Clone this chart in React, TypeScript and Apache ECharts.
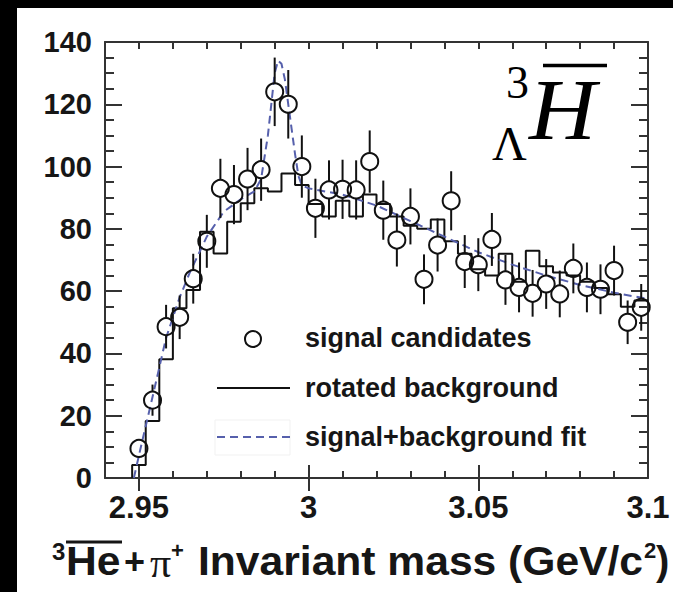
import React, { useEffect, useRef } from 'react';
import * as echarts from 'echarts';

// ---- data ----
const massBins = [
  2.950, 2.954, 2.958, 2.962, 2.966, 2.970, 2.974, 2.978, 2.982, 2.986,
  2.990, 2.994, 2.998, 3.002, 3.006, 3.010, 3.014, 3.018, 3.022, 3.026,
  3.030, 3.034, 3.038, 3.042, 3.046, 3.050, 3.054, 3.058, 3.062, 3.066,
  3.070, 3.074, 3.078, 3.082, 3.086, 3.090, 3.094, 3.098,
];
const signalCounts = [
  9.5, 25, 48.6, 51.6, 64, 76, 93, 91, 96, 99,
  124, 120, 100, 86.6, 92.5, 92.7, 92.5, 101.6, 86, 76.4,
  84, 63.8, 74.8, 89, 69.5, 68.5, 76.6, 63.6, 61.2, 59.3,
  62.3, 59.1, 67.3, 61.2, 60.6, 66.6, 50, 54.8,
];
const signalErrors = [
  3, 5, 7, 7, 8, 8.5, 9.5, 9.5, 10, 10,
  11, 11, 10, 9.5, 9.5, 9.5, 9.5, 10, 9.5, 8.5,
  9, 8, 8.5, 9.5, 8.5, 8.5, 8.5, 8, 8, 7.5,
  8, 7.5, 8, 8, 8, 8, 7, 7.5,
];
const rotatedBackground = [
  4.2, 18.3, 38.1, 54.5, 60.4, 79.1, 72.1, 82.3, 88.2, 93,
  92, 97.8, 94.1, 88, 84, 89, 84, 91, 88, 84,
  81, 80, 83, 76, 72, 67, 65, 72, 63, 73,
  68, 66, 65, 63, 61, 59, 55, 57,
];
const fitMass = [
  2.9485, 2.951, 2.954, 2.958, 2.962, 2.965, 2.970, 2.975, 2.980, 2.984,
  2.986, 2.987, 2.988, 2.989, 2.990, 2.991, 2.992, 2.993, 2.994, 2.995,
  2.996, 2.997, 2.998, 3.000, 3.010, 3.020, 3.030, 3.040, 3.050, 3.060,
  3.070, 3.080, 3.090, 3.100,
];
const fitValues = [
  0, 12, 26, 45, 58, 66, 77.5, 85.5, 89.5, 92,
  96, 103, 110, 120, 130, 134, 133, 128, 120, 112,
  104, 97, 94, 93, 91, 87.5, 82.5, 77.5, 72.5, 68.5,
  65, 62, 59.5, 57.5,
];
const xTickLabels = [2.95, 3.0, 3.05, 3.1];
const xMajorTicks = [2.95, 3.0, 3.05];
const yTickLabels = [0, 20, 40, 60, 80, 100, 120, 140];

const BIN_HALF = 0.002;
const AXIS_COLOR = '#333';
const TEXT_COLOR = '#161616';
const FIT_COLOR = '#5660ac';
const SANS = 'Liberation Sans';
const SERIF = 'Liberation Serif';

function fmtX(v: number) {
  return String(Number(v.toFixed(2)));
}

export default function App() {
  const ref = useRef<HTMLDivElement>(null);

  useEffect(() => {
    if (!ref.current) return;
    const chart = echarts.init(ref.current, undefined, { renderer: 'svg' });

    const histData: number[][] = [[massBins[0] - BIN_HALF, 0]];
    massBins.forEach((m, i) => histData.push([m - BIN_HALF, rotatedBackground[i]]));
    histData.push([massBins[massBins.length - 1] + BIN_HALF, rotatedBackground[rotatedBackground.length - 1]]);

    const fitData = fitMass.map((m, i) => [m, fitValues[i]]);
    const sigData = massBins.map((m, i) => [m, signalCounts[i], signalErrors[i]]);

    const lineStyle = { color: AXIS_COLOR, width: 2 };
    const xBase = { type: 'value', min: 2.94, max: 3.1, interval: 0.01, splitLine: { show: false } };
    const yBase = { type: 'value', min: 0, max: 140, splitLine: { show: false } };

    const option: any = {
      animation: false,
      backgroundColor: '#ffffff',
      grid: { left: 105, top: 42, width: 543, height: 436, containLabel: false },
      xAxis: [
        {
          ...xBase, position: 'bottom',
          axisLine: { show: true, onZero: false, lineStyle },
          axisTick: { show: true, inside: true, length: 7, lineStyle },
          axisLabel: {
            show: true, customValues: xTickLabels, formatter: (v: number) => fmtX(v),
            fontSize: 31, fontWeight: 'bold', fontFamily: SANS, color: TEXT_COLOR, margin: 14,
          },
        },
        {
          ...xBase, position: 'bottom',
          axisLine: { show: false },
          axisTick: { show: true, inside: true, length: 13, customValues: xMajorTicks, lineStyle },
          axisLabel: { show: false },
        },
        {
          ...xBase, position: 'top',
          axisLine: { show: true, onZero: false, lineStyle },
          axisTick: { show: true, inside: true, length: 7, lineStyle },
          axisLabel: { show: false },
        },
        {
          ...xBase, position: 'top',
          axisLine: { show: false },
          axisTick: { show: true, inside: true, length: 13, customValues: xMajorTicks, lineStyle },
          axisLabel: { show: false },
        },
      ],
      yAxis: [
        {
          ...yBase, position: 'left', interval: 5,
          axisLine: { show: true, onZero: false, lineStyle },
          axisTick: { show: true, inside: true, length: 9, lineStyle },
          axisLabel: {
            show: true, customValues: yTickLabels,
            fontSize: 29, fontWeight: 'bold', fontFamily: SANS, color: TEXT_COLOR, margin: 13,
            padding: [8, 0, 0, 0],
          },
        },
        {
          ...yBase, position: 'left', interval: 20,
          axisLine: { show: false },
          axisTick: { show: true, inside: true, length: 17, lineStyle },
          axisLabel: { show: false },
        },
        {
          ...yBase, position: 'right', interval: 5,
          axisLine: { show: true, onZero: false, lineStyle },
          axisTick: { show: true, inside: true, length: 9, lineStyle },
          axisLabel: { show: false },
        },
        {
          ...yBase, position: 'right', interval: 20,
          axisLine: { show: false },
          axisTick: { show: true, inside: true, length: 17, lineStyle },
          axisLabel: { show: false },
        },
      ],
      series: [
        {
          name: 'rotated background', type: 'line', xAxisIndex: 0, yAxisIndex: 0,
          data: histData, step: 'end', showSymbol: false, symbol: 'none',
          lineStyle: { color: '#111', width: 2 }, z: 3,
        },
        {
          name: 'signal+background fit', type: 'line', xAxisIndex: 0, yAxisIndex: 0,
          data: fitData, showSymbol: false, symbol: 'none', smooth: false,
          lineStyle: { color: FIT_COLOR, width: 2, type: [8, 5] }, z: 4,
        },
        {
          name: 'signal candidates', type: 'custom', coordinateSystem: 'cartesian2d',
          xAxisIndex: 0, yAxisIndex: 0, data: sigData, z: 5,
          renderItem: (params: any, api: any) => {
            const x = api.value(0);
            const y = api.value(1);
            const e = api.value(2);
            const c = api.coord([x, y]);
            const hi = api.coord([x, y + e]);
            const lo = api.coord([x, y - e]);
            const r = 8.5;
            const st = { stroke: '#111', lineWidth: 2 };
            const children: any[] = [];
            if (hi[1] < c[1] - r) {
              children.push({ type: 'line', shape: { x1: c[0], y1: hi[1], x2: c[0], y2: c[1] - r }, style: st });
            }
            if (lo[1] > c[1] + r) {
              children.push({ type: 'line', shape: { x1: c[0], y1: c[1] + r, x2: c[0], y2: lo[1] }, style: st });
            }
            children.push({ type: 'circle', shape: { cx: c[0], cy: c[1], r }, style: { fill: 'none', stroke: '#111', lineWidth: 2 } });
            return { type: 'group', children };
          },
        },
      ],
      graphic: [
        // black frame bands of the original picture
        { type: 'rect', shape: { x: 0, y: 0, width: 673, height: 8 }, style: { fill: '#000' } },
        { type: 'rect', shape: { x: 0, y: 0, width: 17, height: 592 }, style: { fill: '#000' } },
        // legend
        { type: 'circle', shape: { cx: 253, cy: 339, r: 8 }, style: { fill: 'none', stroke: '#111', lineWidth: 2 } },
        { type: 'text', x: 305, y: 338, style: { text: 'signal candidates', font: `bold 27px "${SANS}"`, fill: TEXT_COLOR, verticalAlign: 'middle', align: 'left' } },
        { type: 'line', shape: { x1: 217, y1: 388, x2: 290, y2: 388 }, style: { stroke: '#111', lineWidth: 2 } },
        { type: 'text', x: 305, y: 388, style: { text: 'rotated background', font: `bold 27px "${SANS}"`, fill: TEXT_COLOR, verticalAlign: 'middle', align: 'left' } },
        { type: 'rect', shape: { x: 215, y: 420, width: 75, height: 35 }, style: { fill: 'none', stroke: '#f1f1f1', lineWidth: 1 } },
        { type: 'line', shape: { x1: 217, y1: 437, x2: 290, y2: 437 }, style: { stroke: FIT_COLOR, lineWidth: 2, lineDash: [8, 5] } },
        { type: 'text', x: 305, y: 437, style: { text: 'signal+background fit', font: `bold 27px "${SANS}"`, fill: TEXT_COLOR, verticalAlign: 'middle', align: 'left' } },
        // hypertriton label
        { type: 'text', x: 506, y: 82, style: { text: '3', font: `46px "${SERIF}"`, fill: '#000', verticalAlign: 'middle', align: 'left' } },
        { type: 'text', x: 492, y: 143, style: { text: 'Λ', font: `48px "${SERIF}"`, fill: '#000', verticalAlign: 'middle', align: 'left' } },
        { type: 'text', x: 529, y: 110, scaleX: 1.08, style: { text: 'H', font: `italic 86px "${SERIF}"`, fill: '#000', verticalAlign: 'middle', align: 'left' } },
        { type: 'line', shape: { x1: 543, y1: 65.5, x2: 607, y2: 65.5 }, style: { stroke: '#000', lineWidth: 3.5 } },
        // x axis title
        { type: 'text', x: 52, y: 551, style: { text: '3', font: `bold 24px "${SANS}"`, fill: TEXT_COLOR, verticalAlign: 'middle', align: 'left' } },
        { type: 'text', x: 66, y: 561, scaleX: 1.065, style: { text: 'He', font: `bold 40px "${SANS}"`, fill: TEXT_COLOR, verticalAlign: 'middle', align: 'left' } },
        { type: 'line', shape: { x1: 66, y1: 542, x2: 122, y2: 542 }, style: { stroke: TEXT_COLOR, lineWidth: 3 } },
        { type: 'text', x: 124, y: 561, style: { text: '+', font: `bold 36px "${SANS}"`, fill: TEXT_COLOR, verticalAlign: 'middle', align: 'left' } },
        { type: 'text', x: 150, y: 563, style: { text: 'π', font: `42px "${SERIF}"`, fill: TEXT_COLOR, verticalAlign: 'middle', align: 'left' } },
        { type: 'text', x: 171, y: 550, style: { text: '+', font: `bold 22px "${SANS}"`, fill: TEXT_COLOR, verticalAlign: 'middle', align: 'left' } },
        { type: 'text', x: 198, y: 561, scaleX: 1.065, style: { text: 'Invariant mass (GeV/c', font: `bold 40px "${SANS}"`, fill: TEXT_COLOR, verticalAlign: 'middle', align: 'left' } },
        { type: 'text', x: 644, y: 550, style: { text: '2', font: `bold 22px "${SANS}"`, fill: TEXT_COLOR, verticalAlign: 'middle', align: 'left' } },
        { type: 'text', x: 656, y: 561, style: { text: ')', font: `bold 40px "${SANS}"`, fill: TEXT_COLOR, verticalAlign: 'middle', align: 'left' } },
      ],
    };

    chart.setOption(option);
    return () => chart.dispose();
  }, []);

  return (
    <div
      ref={ref}
      style={{ position: 'fixed', left: 0, top: 0, width: 673, height: 592, background: '#fff' }}
    />
  );
}
